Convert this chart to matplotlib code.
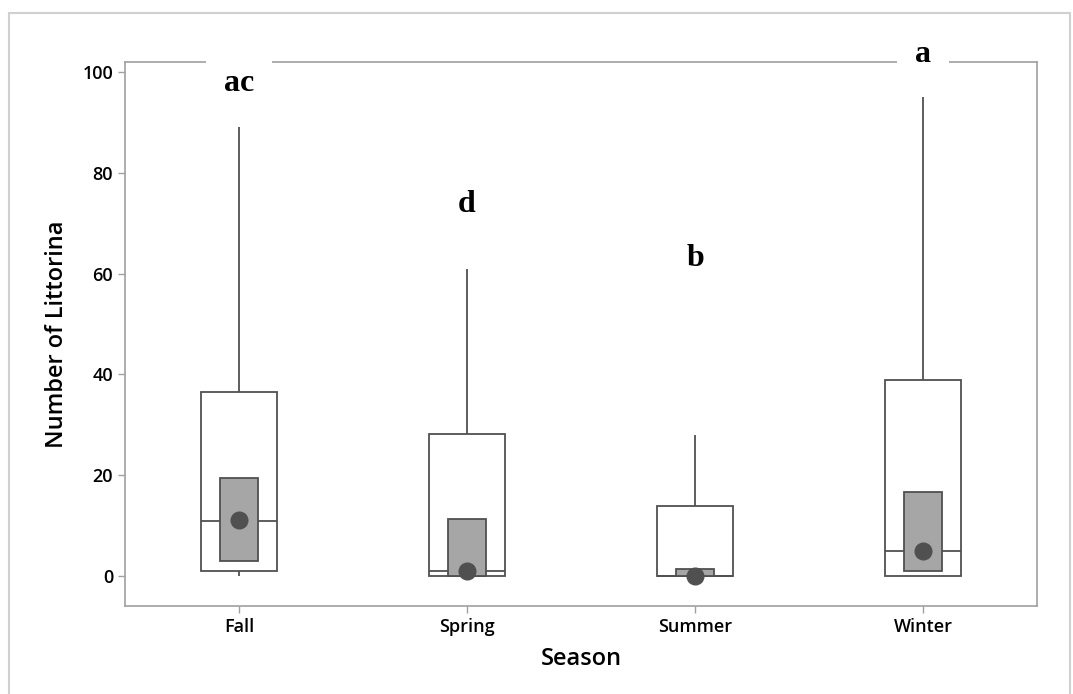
import matplotlib
matplotlib.use('Agg')
import matplotlib.pyplot as plt
from matplotlib.patches import Rectangle

# Boxplot summary (Minitab style, median CI boxes + means)
seasons = ['Fall', 'Spring', 'Summer', 'Winter']
q1 = [1.0, 0.0, 0.0, 0.0]
q3 = [36.5, 28.2, 13.9, 38.9]
medians = [11.0, 1.0, 0.0, 5.0]
ci_low = [3.0, 0.0, 0.0, 1.0]
ci_high = [19.5, 11.3, 1.4, 16.7]
means = [11.2, 1.0, 0.0, 5.0]
whisker_low = [0.0, 0.0, 0.0, 0.0]
whisker_high = [89.0, 61.0, 28.0, 95.0]
letters = ['ac', 'd', 'b', 'a']
letter_y = [97.8, 73.8, 63.0, 103.4]

plt.rcParams['font.family'] = ['Open Sans', 'DejaVu Sans']

fig = plt.figure(figsize=(10.73, 6.94), dpi=100)
ax = fig.add_axes([0.1165, 0.1268, 0.85, 0.7839])

edge = '#505050'
pos = list(range(1, len(seasons) + 1))
box_w = 0.33
ci_w = 0.167

# whiskers
ax.vlines(pos, q3, whisker_high, color=edge, lw=1.3, zorder=2)
ax.vlines(pos, whisker_low, q1, color=edge, lw=1.3, zorder=2)

# IQR boxes
ax.bar(pos, [h - l for l, h in zip(q1, q3)], bottom=q1, width=box_w,
       color='white', edgecolor=edge, linewidth=1.3, zorder=3)

# median lines
for p, m in zip(pos, medians):
    ax.hlines(m, p - box_w / 2, p + box_w / 2, color=edge, lw=1.3, zorder=4)

# median confidence interval boxes
ax.bar(pos, [h - l for l, h in zip(ci_low, ci_high)], bottom=ci_low, width=ci_w,
       color='#a6a6a6', edgecolor=edge, linewidth=1.3, zorder=5)

# means
ax.plot(pos, means, 'o', color=edge, markersize=12, zorder=6, clip_on=False)

# group letters
for p, t, y in zip(pos, letters, letter_y):
    ax.text(p, y, t, ha='center', va='center', fontsize=23, fontweight='bold',
            family='Liberation Serif', zorder=10, clip_on=False,
            bbox=dict(facecolor='white', edgecolor='none', pad=13))

ax.set_xlim(0.5, len(seasons) + 0.5)
ax.set_ylim(-5.95, 102)
ax.set_xticks(pos)
ax.set_xticklabels(seasons)
ax.set_yticks([0, 20, 40, 60, 80, 100])

for s in ax.spines.values():
    s.set_color('#a0a0a0')
    s.set_linewidth(1.2)
ax.tick_params(axis='both', colors='#a0a0a0', labelcolor='black', labelsize=13,
               length=5, width=1)
for lab in ax.get_xticklabels() + ax.get_yticklabels():
    lab.set_fontweight('semibold')

ax.set_xlabel('Season', fontsize=17, fontweight='semibold', labelpad=8)
ax.set_ylabel('Number of Littorina', fontsize=17, fontweight='semibold', labelpad=10)

# light grey outer frame
fig.add_artist(Rectangle((9 / 1073, -0.01), 1061 / 1073, 1 - 13 / 694 + 0.01,
                         transform=fig.transFigure, fill=False,
                         edgecolor='#d0d0d0', linewidth=1.5))

fig.savefig('out.png', dpi=100)
